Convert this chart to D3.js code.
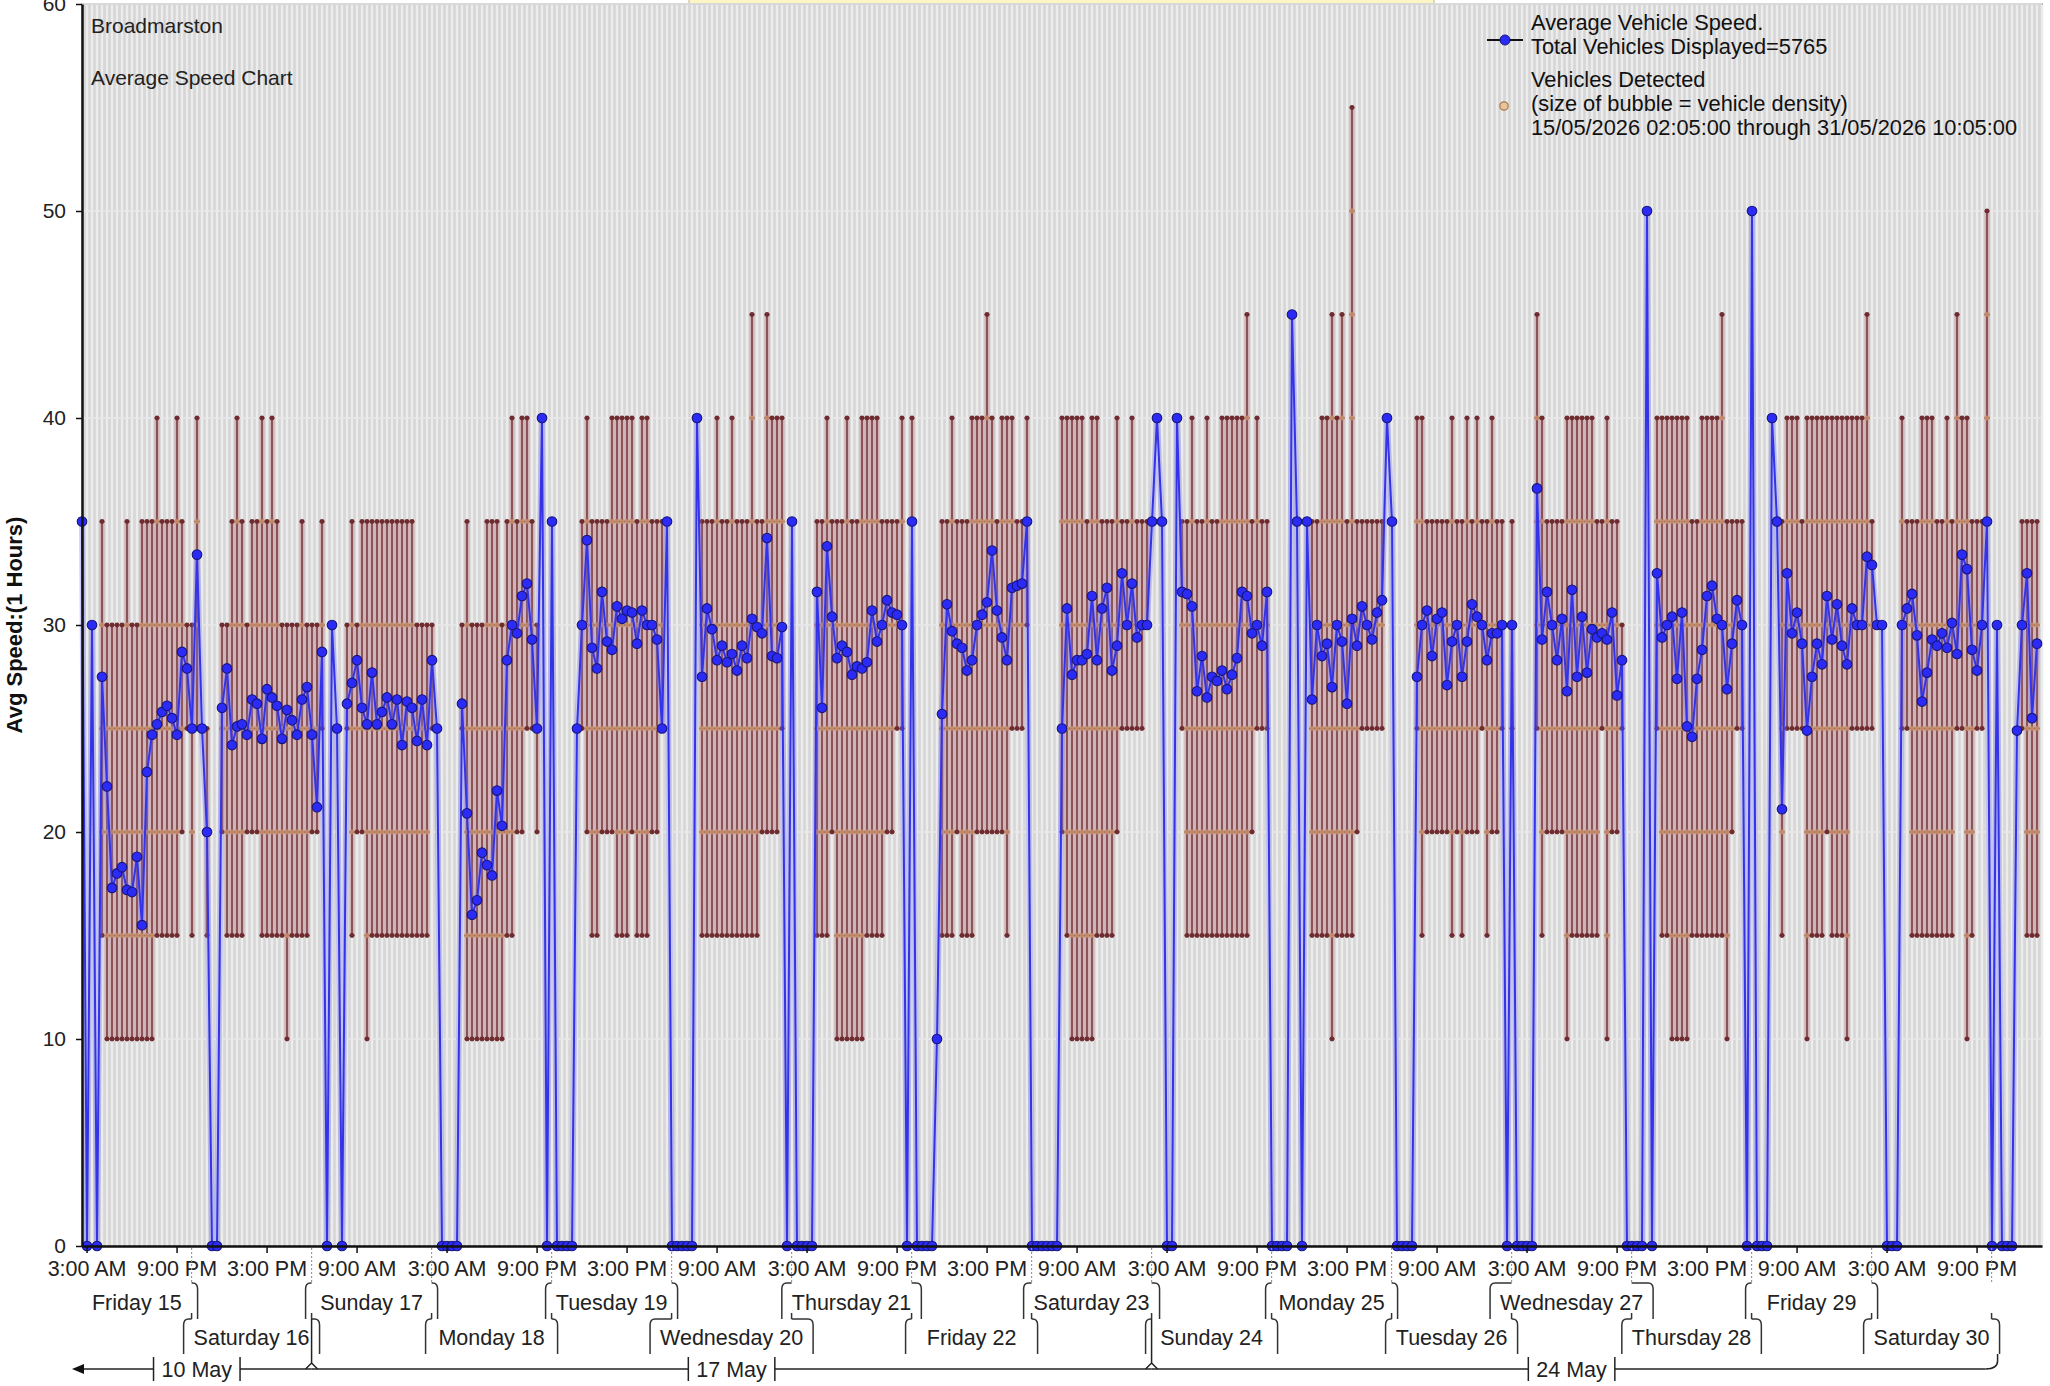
<!DOCTYPE html>
<html>
<head>
<meta charset="utf-8">
<script src="https://cdn.jsdelivr.net/npm/d3@7"></script>
<style>
  body { margin: 0; background: #fff; }
  svg { display: block; font-family: "Liberation Sans", Arial, sans-serif; }
</style>
</head>
<body>
<div id="chart"></div>
<script>
// ---------- data ----------
const START = new Date(2026, 4, 15, 2, 5);
const END = new Date(2026, 4, 31, 10, 5);

// hourly average speed, one value per hour from 15/05 02:05 (0 = no vehicles)
const AVG_SPEED = [
  35,0,30,0,27.5,22.2,17.3,18,18.3,17.2,17.1,18.8,15.5,22.9,24.7,25.2,25.8,26.1,25.5,24.7,28.7,27.9,25,33.4,
  25,20,0,0,26,27.9,24.2,25.1,25.2,24.7,26.4,26.2,24.5,26.9,26.5,26.1,24.5,25.9,25.4,24.7,26.4,27,24.7,21.2,
  28.7,0,30,25,0,26.2,27.2,28.3,26,25.2,27.7,25.2,25.8,26.5,25.2,26.4,24.2,26.3,26,24.4,26.4,24.2,28.3,25,
  0,0,0,0,26.2,20.9,16,16.7,19,18.4,17.9,22,20.3,28.3,30,29.6,31.4,32,29.3,25,40,0,35,0,
  0,0,0,25,30,34.1,28.9,27.9,31.6,29.2,28.8,30.9,30.3,30.7,30.6,29.1,30.7,30,30,29.3,25,35,0,0,
  0,0,0,40,27.5,30.8,29.8,28.3,29,28.2,28.6,27.8,29,28.4,30.3,29.9,29.6,34.2,28.5,28.4,29.9,0,35,0,
  0,0,0,31.6,26,33.8,30.4,28.4,29,28.7,27.6,28,27.9,28.2,30.7,29.2,30,31.2,30.6,30.5,30,0,35,0,
  0,0,0,10,25.7,31,29.7,29.1,28.9,27.8,28.3,30,30.5,31.1,33.6,30.7,29.4,28.3,31.8,31.9,32,35,0,0,
  0,0,0,0,25,30.8,27.6,28.3,28.3,28.6,31.4,28.3,30.8,31.8,27.8,29,32.5,30,32,29.4,30,30,35,40,
  35,0,0,40,31.6,31.5,30.9,26.8,28.5,26.5,27.5,27.3,27.8,26.9,27.6,28.4,31.6,31.4,29.6,30,29,31.6,0,0,
  0,0,45,35,0,35,26.4,30,28.5,29.1,27,30,29.2,26.2,30.3,29,30.9,30,29.3,30.6,31.2,40,35,0,
  0,0,0,27.5,30,30.7,28.5,30.3,30.6,27.1,29.2,30,27.5,29.2,31,30.4,30,28.3,29.6,29.6,30,0,30,0,
  0,0,0,36.6,29.3,31.6,30,28.3,30.3,26.8,31.7,27.5,30.4,27.7,29.8,29.4,29.6,29.3,30.6,26.6,28.3,0,0,0,
  0,50,0,32.5,29.4,30,30.4,27.4,30.6,25.1,24.6,27.4,28.8,31.4,31.9,30.3,30,26.9,29.1,31.2,30,0,50,0,
  0,0,40,35,21.1,32.5,29.6,30.6,29.1,24.9,27.5,29.1,28.1,31.4,29.3,31,29,28.1,30.8,30,30,33.3,32.9,30,
  30,0,0,0,30,30.8,31.5,29.5,26.3,27.7,29.3,29,29.6,28.9,30.1,28.6,33.4,32.7,28.8,27.8,30,35,0,30,
  0,0,0,24.9,30,32.5,25.5,29.1
];

// [hour index, slowest speed, fastest speed] for the hours with vehicles
const SPEED_RANGE = [
  [4,15,35],[5,10,30],[6,10,30],[7,10,30],[8,10,30],[9,10,35],[10,10,30],[11,10,30],[12,10,35],[13,10,35],[14,10,35],
  [15,15,40],[16,15,35],[17,15,35],[18,15,35],[19,15,40],[20,20,35],[21,25,30],[22,15,30],[23,25,40],[24,25,25],[25,15,25],
  [28,20,30],[29,15,30],[30,15,35],[31,15,40],[32,15,35],[33,20,30],[34,20,35],[35,20,35],[36,15,40],[37,15,35],[38,15,40],
  [39,15,35],[40,15,30],[41,10,30],[42,15,30],[43,15,30],[44,15,35],[45,15,30],[46,20,30],[47,20,30],[48,25,35],[50,30,30],[51,25,25],
  [53,25,30],[54,15,35],[55,20,30],[56,20,35],[57,10,35],[58,15,35],[59,15,35],[60,15,35],[61,15,35],[62,15,35],[63,15,35],
  [64,15,35],[65,15,35],[66,15,35],[67,15,30],[68,15,30],[69,15,30],[70,25,30],[71,25,25],
  [76,25,30],[77,10,35],[78,10,30],[79,10,30],[80,10,30],[81,10,35],[82,10,35],[83,10,35],[84,10,30],[85,15,35],[86,15,40],
  [87,20,35],[88,20,40],[89,25,40],[90,25,35],[91,20,30],[92,40,40],[94,35,35],
  [99,25,25],[100,25,35],[101,20,40],[102,15,35],[103,15,35],[104,20,35],[105,20,35],[106,20,40],[107,15,40],[108,15,40],
  [109,15,40],[110,20,40],[111,15,35],[112,15,40],[113,15,40],[114,20,35],[115,20,35],[116,25,35],[117,35,35],
  [123,40,40],[124,15,35],[125,15,35],[126,15,35],[127,15,40],[128,15,35],[129,15,35],[130,15,40],[131,15,35],[132,15,35],
  [133,15,35],[134,15,45],[135,15,35],[136,20,35],[137,20,45],[138,20,40],[139,20,40],[140,25,40],[142,35,35],
  [147,15,35],[148,15,35],[149,15,40],[150,20,35],[151,10,35],[152,10,35],[153,10,40],[154,10,35],[155,10,35],[156,10,40],
  [157,15,40],[158,15,40],[159,15,40],[160,15,35],[161,20,35],[162,20,35],[163,25,35],[164,25,40],[166,35,40],
  [171,10,10],[172,15,35],[173,15,35],[174,15,40],[175,20,35],[176,15,35],[177,15,35],[178,15,40],[179,20,40],[180,20,40],
  [181,20,45],[182,20,40],[183,20,35],[184,20,40],[185,15,40],[186,25,40],[187,25,35],[188,25,35],[189,30,40],
  [196,20,40],[197,15,40],[198,10,40],[199,10,40],[200,10,40],[201,10,35],[202,10,40],[203,15,40],[204,15,35],[205,15,35],
  [206,15,35],[207,20,40],[208,25,35],[209,25,35],[210,25,40],[211,25,35],[212,25,35],[213,30,35],[214,35,35],[215,40,40],[216,35,35],
  [219,40,40],[220,25,35],[221,15,35],[222,15,40],[223,15,35],[224,15,35],[225,15,40],[226,15,35],[227,15,35],[228,15,40],
  [229,15,40],[230,15,40],[231,15,40],[232,15,40],[233,15,45],[234,20,35],[235,25,40],[236,25,35],[237,25,35],
  [242,45,45],[243,35,35],[245,35,35],[246,15,35],[247,15,35],[248,15,40],[249,15,40],[250,10,45],[251,15,40],[252,15,45],
  [253,15,35],[254,15,55],[255,20,35],[256,25,35],[257,25,35],[258,25,35],[259,25,35],[260,25,35],[261,40,40],[262,35,35],
  [267,25,40],[268,15,40],[269,20,35],[270,20,35],[271,20,35],[272,20,35],[273,20,35],[274,15,40],[275,20,35],[276,15,35],
  [277,20,40],[278,20,35],[279,20,40],[280,25,35],[281,15,35],[282,20,40],[283,20,35],[284,25,35],[286,25,35],
  [291,25,45],[292,15,40],[293,20,35],[294,20,35],[295,20,35],[296,20,35],[297,10,40],[298,15,40],[299,15,40],[300,15,40],
  [301,15,40],[302,15,40],[303,15,35],[304,25,35],[305,10,40],[306,20,35],[307,20,35],[308,25,30],
  [313,50,50],[315,25,40],[316,15,40],[317,15,40],[318,10,40],[319,10,40],[320,10,40],[321,10,40],[322,15,35],[323,15,35],
  [324,15,40],[325,15,40],[326,15,40],[327,15,40],[328,15,45],[329,10,35],[330,20,35],[331,25,35],[332,25,35],[334,50,50],
  [338,40,40],[339,35,35],[340,15,35],[341,25,40],[342,25,40],[343,25,40],[344,25,35],[345,10,40],[346,15,40],[347,15,40],
  [348,15,40],[349,20,40],[350,15,40],[351,15,40],[352,15,40],[353,10,40],[354,25,40],[355,25,40],[356,25,40],[357,25,45],
  [358,25,35],[359,30,30],[360,30,30],
  [364,25,40],[365,25,35],[366,15,35],[367,15,35],[368,15,40],[369,15,40],[370,15,40],[371,15,35],[372,15,35],[373,15,40],
  [374,15,35],[375,25,45],[376,25,40],[377,10,40],[378,15,35],[379,25,35],[380,25,35],[381,35,50],[383,30,30],
  [387,25,25],[388,25,35],[389,15,35],[390,15,35],[391,15,35]
];

const Y_TICKS = [0, 10, 20, 30, 40, 50, 60];
const DAY_LABELS = [
  "Friday 15", "Saturday 16", "Sunday 17", "Monday 18", "Tuesday 19", "Wednesday 20", "Thursday 21", "Friday 22",
  "Saturday 23", "Sunday 24", "Monday 25", "Tuesday 26", "Wednesday 27", "Thursday 28", "Friday 29", "Saturday 30"
];
const WEEK_LABELS = ["10 May", "17 May", "24 May"];
const TITLE_LINES = ["Broadmarston", "Average Speed Chart"];
const LEGEND_SPEED = ["Average Vehicle Speed.", "Total Vehicles Displayed=5765"];
const LEGEND_BUBBLE = ["Vehicles Detected", "(size of bubble = vehicle density)", "15/05/2026 02:05:00 through 31/05/2026 10:05:00"];

// ---------- layout ----------
const W = 2050, H = 1386;
const plot = { left: 82, right: 2042, top: 4, bottom: 1246 };
const rows = [
  { top: 1283, bottom: 1319, text: 1310 },
  { top: 1319, bottom: 1354, text: 1345 }
];
const weekY = 1369;
const FONT = 21;

const x = d3.scaleTime().domain([START, END]).range([plot.left, plot.right]);
const y = d3.scaleLinear().domain([0, 60]).range([plot.bottom, plot.top]);
const hourDate = h => d3.timeHour.offset(START, h);

const svg = d3.select("#chart").append("svg")
  .attr("width", W)
  .attr("height", H);

svg.append("rect").attr("width", W).attr("height", H).attr("fill", "#fff");

// yellow caption box, mostly off the top of the page
svg.append("rect")
  .attr("x", 689).attr("y", -20)
  .attr("width", 745).attr("height", 24)
  .attr("fill", "#fcf6c6")
  .attr("stroke", "#bdb583");

// plot background
svg.append("rect")
  .attr("x", plot.left).attr("y", plot.top)
  .attr("width", plot.right - plot.left)
  .attr("height", plot.bottom - plot.top)
  .attr("fill", "#d6d6d6")
  .attr("stroke", "#9a9a9a")
  .attr("stroke-width", 1.5);

// hourly vertical grid
svg.append("g")
  .selectAll("line")
  .data(d3.range(0, AVG_SPEED.length + 1))
  .join("line")
  .attr("x1", h => x(hourDate(h))).attr("x2", h => x(hourDate(h)))
  .attr("y1", plot.top + 1).attr("y2", plot.bottom)
  .attr("stroke", "#ececec")
  .attr("stroke-width", 2.4);

// horizontal grid
svg.append("g")
  .selectAll("line")
  .data(Y_TICKS.slice(1))
  .join("line")
  .attr("x1", plot.left).attr("x2", plot.right)
  .attr("y1", d => y(d)).attr("y2", d => y(d))
  .attr("stroke", "#e9e9e9")
  .attr("stroke-width", 1.5);

// ---------- speed range bars ----------
const barG = svg.append("g");
const bars = barG.selectAll("g.bar")
  .data(SPEED_RANGE)
  .join("g")
  .attr("class", "bar")
  .attr("transform", d => `translate(${x(hourDate(d[0]))},0)`);

bars.append("line")
  .attr("y1", d => y(d[1])).attr("y2", d => y(d[2]))
  .attr("stroke", "rgba(200,146,154,0.55)")
  .attr("stroke-width", 5);

bars.append("line")
  .attr("y1", d => y(d[1])).attr("y2", d => y(d[2]))
  .attr("stroke", "#7a3a3e")
  .attr("stroke-width", 1.6);

// density bubbles at each detected speed level
bars.each(function(d) {
  const g = d3.select(this);
  const levels = d3.range(d[1], d[2] + 0.1, 5);
  g.selectAll("line.lvl")
    .data(levels)
    .join("line")
    .attr("class", "lvl")
    .attr("x1", -2.6).attr("x2", 2.6)
    .attr("y1", v => y(v)).attr("y2", v => y(v))
    .attr("stroke", "#8a4644")
    .attr("stroke-width", 1.6);
  g.selectAll("circle.bub")
    .data(levels.filter(v => v > d[1] && v < d[2]))
    .join("circle")
    .attr("class", "bub")
    .attr("cy", v => y(v))
    .attr("r", 2.4)
    .attr("fill", "rgba(228,176,124,0.6)")
    .attr("stroke", "rgba(170,115,80,0.6)")
    .attr("stroke-width", 0.8);
  g.selectAll("circle.cap")
    .data([d[1], d[2]])
    .join("circle")
    .attr("class", "cap")
    .attr("cy", v => y(v))
    .attr("r", 2.4)
    .attr("fill", "#6e2c30");
});

// ---------- average speed line ----------
const speedPts = AVG_SPEED.map((v, i) => ({ t: hourDate(i), v }));
const line = d3.line().x(d => x(d.t)).y(d => y(d.v));

svg.append("path")
  .attr("d", line(speedPts))
  .attr("fill", "none")
  .attr("stroke", "rgba(110,110,255,0.32)")
  .attr("stroke-width", 6)
  .attr("stroke-linejoin", "round");

svg.append("path")
  .attr("d", line(speedPts))
  .attr("fill", "none")
  .attr("stroke", "#3434e6")
  .attr("stroke-width", 2)
  .attr("stroke-linejoin", "round");

svg.append("g")
  .selectAll("circle")
  .data(speedPts)
  .join("circle")
  .attr("cx", d => x(d.t))
  .attr("cy", d => y(d.v))
  .attr("r", 4.8)
  .attr("fill", "#2b2bf5")
  .attr("stroke", "#16167a")
  .attr("stroke-width", 1.1);

// ---------- axes ----------
const yAxis = svg.append("g")
  .attr("transform", `translate(${plot.left},0)`)
  .call(d3.axisLeft(y).tickValues(Y_TICKS).tickSize(6).tickPadding(10).tickSizeOuter(0));
yAxis.select(".domain").attr("stroke", "#111").attr("stroke-width", 2.5);
yAxis.selectAll(".tick line").attr("stroke", "#111").attr("stroke-width", 1.5);
yAxis.selectAll("text").attr("font-size", FONT).attr("font-family", "Liberation Sans, Arial").attr("fill", "#222");

const firstTick = new Date(2026, 4, 15, 3, 0);
const xTicks = d3.timeHour.range(firstTick, END).filter((d, i) => i % 18 === 0);
const xAxis = svg.append("g")
  .attr("transform", `translate(0,${plot.bottom})`)
  .call(d3.axisBottom(x).tickValues(xTicks).tickFormat(d3.timeFormat("%-I:%M %p")).tickSize(7).tickPadding(8).tickSizeOuter(0));
xAxis.select(".domain").attr("stroke", "#111").attr("stroke-width", 2.5);
xAxis.selectAll(".tick line").attr("stroke", "#111").attr("stroke-width", 1.5);
xAxis.selectAll("text").attr("font-size", 21.5).attr("font-family", "Liberation Sans, Arial").attr("fill", "#222");

svg.append("text")
  .attr("transform", `translate(22,${(plot.top + plot.bottom) / 2}) rotate(-90)`)
  .attr("text-anchor", "middle")
  .attr("font-size", 22)
  .attr("font-weight", "bold")
  .attr("fill", "#111")
  .text("Avg Speed:(1 Hours)");

// ---------- day brackets ----------
const dayG = svg.append("g").attr("fill", "none").attr("stroke", "#333").attr("stroke-width", 1.5);
const midnights = d3.timeDay.range(d3.timeDay.ceil(START), END);

midnights.forEach(m => {
  const xm = x(m);
  dayG.append("line")
    .attr("x1", xm).attr("x2", xm)
    .attr("y1", plot.bottom + 2).attr("y2", rows[0].top)
    .attr("stroke", "#999").attr("stroke-dasharray", "2,2").attr("stroke-width", 1.2);
  // short link below the first row down to the second row
  dayG.append("line")
    .attr("x1", xm).attr("x2", xm)
    .attr("y1", rows[0].bottom - 6).attr("y2", rows[1].top);
});

const dayStarts = d3.timeDay.range(d3.timeDay.floor(START), END).slice(0, DAY_LABELS.length);
dayStarts.forEach((ds, i) => {
  const r = rows[i % 2];
  const s = ds < START ? START : ds;
  const de = d3.timeDay.offset(ds, 1);
  const e = de > END ? END : de;
  const xs = x(s), xe = x(e);
  const cx = (xs + xe) / 2;

  const t = svg.append("text")
    .attr("x", cx).attr("y", r.text)
    .attr("text-anchor", "middle")
    .attr("font-size", 21.5).attr("fill", "#222")
    .text(DAY_LABELS[i]);
  const hw = t.node().getComputedTextLength() / 2 + 10;

  if (s > START) {
    const bx = Math.min(xs - 6, cx - hw);
    dayG.append("path").attr("d", `M${xs},${r.top} L${bx + 5},${r.top} Q${bx},${r.top} ${bx},${r.top + 6} L${bx},${r.bottom}`);
  }
  if (e < END) {
    const bx = Math.max(xe + 6, cx + hw);
    dayG.append("path").attr("d", `M${xe},${r.top} L${bx - 5},${r.top} Q${bx},${r.top} ${bx},${r.top + 6} L${bx},${r.bottom}`);
  }
});

// ---------- week row ----------
const weekG = svg.append("g").attr("fill", "none").attr("stroke", "#222").attr("stroke-width", 1.5);
const weekStarts = d3.timeWeek.range(d3.timeWeek.floor(START), d3.timeWeek.floor(END)).slice(0, WEEK_LABELS.length);
weekStarts.forEach((ws, k) => {
  const we = d3.timeWeek.offset(ws, 1);
  const xa = Math.max(x(ws), plot.left);
  const xb = Math.min(x(we), plot.right);
  const cx = (xa + xb) / 2;
  const t = svg.append("text")
    .attr("x", cx).attr("y", weekY + 8)
    .attr("text-anchor", "middle")
    .attr("font-size", 21.5).attr("fill", "#222")
    .text(WEEK_LABELS[k]);
  const hw = t.node().getComputedTextLength() / 2 + 8;
  const lineStart = k === 0 ? plot.left - 2 : xa;
  const lastWeek = k === weekStarts.length - 1;
  weekG.append("line").attr("x1", lineStart).attr("x2", cx - hw).attr("y1", weekY).attr("y2", weekY);
  weekG.append("line").attr("x1", cx + hw).attr("x2", lastWeek ? xb - 6 : xb).attr("y1", weekY).attr("y2", weekY);
  [cx - hw, cx + hw].forEach(bx => {
    weekG.append("line").attr("x1", bx).attr("x2", bx).attr("y1", weekY - 12).attr("y2", weekY + 12);
  });
  if (k > 0) {
    weekG.append("path").attr("d", `M${xa},${rows[1].top} L${xa},${weekY - 6} L${xa - 6},${weekY} M${xa},${weekY - 6} L${xa + 6},${weekY}`);
  }
  if (lastWeek) {
    weekG.append("path").attr("d", `M${xb - 6},${weekY} Q${xb + 6},${weekY} ${xb + 6},${weekY - 8} L${xb + 6},${rows[1].bottom}`);
  }
});

// left arrow head for the week that began before the data
svg.append("path")
  .attr("d", `M${plot.left - 10},${weekY} L${plot.left + 2},${weekY - 5} L${plot.left + 2},${weekY + 5} Z`)
  .attr("fill", "#111");

// ---------- titles & legend ----------
TITLE_LINES.forEach((txt, i) => {
  svg.append("text")
    .attr("x", 91).attr("y", 33 + i * 52)
    .attr("font-size", 21).attr("fill", "#222")
    .text(txt);
});

const legX = 1531;
LEGEND_SPEED.forEach((txt, i) => {
  svg.append("text").attr("x", legX).attr("y", 30 + i * 24)
    .attr("font-size", 21.8).attr("fill", "#111").text(txt);
});
LEGEND_BUBBLE.forEach((txt, i) => {
  svg.append("text").attr("x", legX).attr("y", 87 + i * 24)
    .attr("font-size", 21.8).attr("fill", "#111").text(txt);
});
svg.append("line")
  .attr("x1", 1487).attr("x2", 1523).attr("y1", 40).attr("y2", 40)
  .attr("stroke", "#111").attr("stroke-width", 1.8);
svg.append("circle")
  .attr("cx", 1505).attr("cy", 40).attr("r", 5)
  .attr("fill", "#2b2bf5").attr("stroke", "#16167a");
svg.append("circle")
  .attr("cx", 1504).attr("cy", 106).attr("r", 4.2)
  .attr("fill", "#e8c49a").attr("stroke", "#a87a50").attr("stroke-width", 1.2);
</script>
</body>
</html>
